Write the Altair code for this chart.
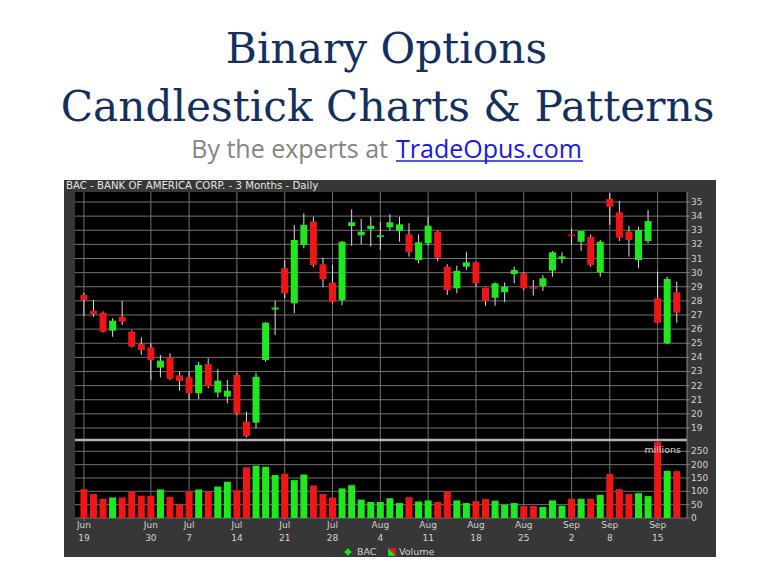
import altair as alt
import numpy as np
import pandas as pd

# ---------------- data ----------------
dates = [
    "2008-06-19", "2008-06-20", "2008-06-23", "2008-06-24", "2008-06-25", "2008-06-26", "2008-06-27", "2008-06-30",
    "2008-07-01", "2008-07-02", "2008-07-03", "2008-07-07", "2008-07-08", "2008-07-09", "2008-07-10", "2008-07-11",
    "2008-07-14", "2008-07-15", "2008-07-16", "2008-07-17", "2008-07-18", "2008-07-21", "2008-07-22", "2008-07-23",
    "2008-07-24", "2008-07-25", "2008-07-28", "2008-07-29", "2008-07-30", "2008-07-31",
    "2008-08-01", "2008-08-04", "2008-08-05", "2008-08-06", "2008-08-07", "2008-08-08", "2008-08-11", "2008-08-12",
    "2008-08-13", "2008-08-14", "2008-08-15", "2008-08-18", "2008-08-19", "2008-08-20", "2008-08-21", "2008-08-22",
    "2008-08-25", "2008-08-26", "2008-08-27", "2008-08-28", "2008-08-29",
    "2008-09-02", "2008-09-03", "2008-09-04", "2008-09-05", "2008-09-08", "2008-09-09", "2008-09-10", "2008-09-11",
    "2008-09-12", "2008-09-15", "2008-09-16", "2008-09-17",
]
opens = [28.42, 27.30, 27.16, 25.89, 26.88, 25.82, 24.95, 24.71, 23.27, 24.00,
         22.73, 22.59, 21.46, 23.53, 21.51, 21.22, 22.75, 19.45, 19.38, 23.81,
         27.40, 30.31, 27.83, 31.96, 33.61, 30.59, 29.29, 28.06, 33.30, 32.64,
         33.09, 32.55, 33.21, 32.95, 32.71, 30.89, 32.08, 32.90, 30.42, 28.89,
         30.42, 30.73, 28.93, 28.22, 28.61, 29.90, 29.95, 28.95, 29.05, 30.14,
         30.96, 32.68, 32.19, 32.54, 30.02, 35.21, 34.27, 32.90, 30.89, 32.24,
         28.18, 25.00, 28.61]
closes = [28.06, 27.07, 25.82, 26.60, 26.53, 24.76, 24.52, 23.81, 23.77, 22.49,
          22.33, 21.46, 23.46, 21.97, 22.35, 21.64, 20.04, 18.43, 22.63, 26.45,
          27.47, 28.54, 32.31, 33.37, 30.54, 29.53, 27.94, 32.19, 33.56, 32.90,
          33.32, 32.59, 33.56, 33.42, 31.44, 32.15, 33.32, 31.06, 28.77, 30.12,
          30.73, 29.24, 27.99, 29.24, 29.00, 30.19, 28.89, 28.91, 29.60, 31.44,
          31.15, 32.64, 32.95, 30.54, 32.19, 34.67, 32.47, 32.31, 33.02, 33.65,
          26.45, 29.55, 27.16]
highs = [28.56, 28.06, 27.25, 26.77, 28.00, 25.90, 25.42, 25.00, 24.17, 24.29,
         22.99, 22.99, 23.69, 23.93, 23.16, 22.40, 22.92, 20.15, 22.92, 26.50,
         28.00, 30.89, 33.37, 34.20, 33.96, 31.06, 30.54, 32.25, 34.48, 33.80,
         33.96, 33.61, 34.13, 33.96, 33.49, 32.71, 33.96, 32.95, 30.59, 30.49,
         31.48, 30.77, 28.95, 29.31, 29.31, 30.42, 30.02, 29.48, 29.83, 31.53,
         31.44, 33.14, 32.95, 32.71, 32.31, 35.62, 35.07, 33.32, 33.25, 34.43,
         30.07, 29.71, 29.36]
lows = [26.93, 26.88, 25.75, 25.46, 26.29, 24.70, 24.17, 22.40, 22.59, 22.40,
        21.64, 20.98, 21.05, 21.81, 21.17, 20.75, 19.92, 18.34, 18.98, 23.69,
        25.58, 28.18, 27.12, 31.72, 30.38, 28.96, 27.83, 27.70, 31.91, 32.00,
        31.84, 31.60, 32.97, 32.19, 31.13, 30.66, 31.91, 30.82, 28.42, 28.54,
        30.19, 29.00, 27.66, 27.66, 27.90, 29.24, 28.77, 28.37, 28.70, 29.71,
        30.66, 32.00, 31.53, 30.42, 29.71, 33.37, 32.24, 31.13, 30.31, 32.08,
        26.41, 24.95, 26.45]
volumes = [108, 90, 72, 77, 77, 99, 84, 83, 107, 79,
           49, 100, 107, 99, 118, 136, 104, 190, 196, 192,
           161, 166, 142, 163, 122, 90, 77, 111, 123, 69,
           60, 60, 74, 56, 78, 62, 66, 60, 100, 66,
           56, 63, 71, 65, 50, 56, 45, 45, 41, 66,
           46, 72, 72, 72, 87, 165, 108, 90, 93, 82,
           285, 177, 176]

tick_dates = ["2008-06-19", "2008-06-30", "2008-07-07", "2008-07-14", "2008-07-21", "2008-07-28",
              "2008-08-04", "2008-08-11", "2008-08-18", "2008-08-25", "2008-09-02", "2008-09-08", "2008-09-15"]
tick_months = ["Jun", "Jun", "Jul", "Jul", "Jul", "Jul", "Aug", "Aug", "Aug", "Aug", "Sep", "Sep", "Sep"]
tick_days = ["19", "30", "7", "14", "21", "28", "4", "11", "18", "25", "2", "8", "15"]
price_ticks = [19, 20, 21, 22, 23, 24, 25, 26, 27, 28, 29, 30, 31, 32, 33, 34, 35]
volume_ticks = [0, 50, 100, 150, 200, 250]

chart_title = "BAC - BANK OF AMERICA CORP. - 3 Months - Daily"
main_title_1 = "Binary Options"
main_title_2 = "Candlestick Charts & Patterns"
sub_plain = "By the experts at"
sub_link = "TradeOpus.com"

# ---------------- frames ----------------
df = pd.DataFrame({"date": dates, "open": opens, "high": highs, "low": lows,
                   "close": closes, "volume": volumes})
df["i"] = np.arange(len(df))
df["dir"] = np.where(df["close"] >= df["open"], "up", "down")
df["doji"] = (df["close"] - df["open"]).abs() < 0.12

ticks_df = pd.DataFrame({"date": tick_dates, "month": tick_months, "day": tick_days})
ticks_df["i"] = [dates.index(d) for d in tick_dates]
pt_df = pd.DataFrame({"p": price_ticks, "label": [str(v) for v in price_ticks]})
vt_df = pd.DataFrame({"v": volume_ticks, "label": [str(v) for v in volume_ticks]})
one = pd.DataFrame({"a": [0]})

UP = "#1fe81f"
DOWN = "#f01616"
GRID = "#727272"
LABEL = "#d2d2d2"
PANEL = "#373737"
NAVY = "#13305f"
FONT = "DejaVu Sans"

X = alt.Scale(domain=[-0.41, 62.55], range=[67, 679], nice=False, zero=False)
PY = alt.Scale(domain=[18.292, 35.708], range=[430, 184], nice=False, zero=False)
VY = alt.Scale(domain=[0, 285], range=[510, 434], nice=False, zero=False)
COL = alt.Color("dir:N", scale=alt.Scale(domain=["up", "down"], range=[UP, DOWN]), legend=None)

def xq(field="i"):
    return alt.X(f"{field}:Q", scale=X, axis=None)

base1 = alt.Chart(one)

panel = base1.mark_rect(color=PANEL).encode(
    x=alt.value(56), x2=alt.value(708), y=alt.value(172), y2=alt.value(549))
plot_bg = base1.mark_rect(color="#000000").encode(
    x=alt.value(67), x2=alt.value(679), y=alt.value(184), y2=alt.value(510))

vgrid = alt.Chart(ticks_df).mark_rule(color=GRID, strokeWidth=1).encode(
    x=xq(), y=alt.value(184), y2=alt.value(513))
pgrid = alt.Chart(pt_df).mark_rule(color=GRID, strokeWidth=1).encode(
    y=alt.Y("p:Q", scale=PY, axis=None), x=alt.value(67), x2=alt.value(682))
vgrid2 = alt.Chart(vt_df).mark_rule(color=GRID, strokeWidth=1).encode(
    y=alt.Y("v:Q", scale=VY, axis=None), x=alt.value(67), x2=alt.value(682))
sep = base1.mark_rule(color="#b4b4b4", strokeWidth=2.5).encode(
    x=alt.value(67), x2=alt.value(679), y=alt.value(432))
axis_line = base1.mark_rule(color="#8a8a8a", strokeWidth=1).encode(
    x=alt.value(679), y=alt.value(184), y2=alt.value(510))

wicks = alt.Chart(df).mark_rule(color="#dddddd", strokeWidth=1).encode(
    x=xq(), y=alt.Y("low:Q", scale=PY, axis=None), y2="high:Q")
bodies = alt.Chart(df).mark_bar(size=7).encode(
    x=xq(), y=alt.Y("open:Q", scale=PY, axis=None), y2="close:Q", color=COL)
dojis = alt.Chart(df).transform_filter("datum.doji").mark_tick(
    orient="horizontal", size=7, thickness=2).encode(
    x=xq(), y=alt.Y("close:Q", scale=PY, axis=None), color=COL)
vol = alt.Chart(df).mark_bar(size=7).encode(
    x=xq(), y=alt.Y("volume:Q", scale=VY, axis=None, stack=None), color=COL)

plabels = alt.Chart(pt_df).mark_text(align="left", baseline="middle", font=FONT,
                                     fontSize=9, color=LABEL).encode(
    y=alt.Y("p:Q", scale=PY, axis=None), x=alt.value(683), text="label:N")
vlabels = alt.Chart(vt_df).mark_text(align="left", baseline="middle", font=FONT,
                                     fontSize=9, color=LABEL).encode(
    y=alt.Y("v:Q", scale=VY, axis=None), x=alt.value(683), text="label:N")
millions = base1.mark_text(align="right", baseline="middle", font=FONT, fontSize=9.5,
                           color=LABEL, text="millions").encode(
    x=alt.value(673), y=alt.value(442))
mlabels = alt.Chart(ticks_df).mark_text(align="center", baseline="middle", font=FONT,
                                        fontSize=9, color=LABEL).encode(
    x=xq(), y=alt.value(517), text="month:N")
dlabels = alt.Chart(ticks_df).mark_text(align="center", baseline="middle", font=FONT,
                                        fontSize=9, color=LABEL).encode(
    x=xq(), y=alt.value(530), text="day:N")
strip = base1.mark_text(align="left", baseline="middle", font=FONT, fontSize=10.2,
                        color="#e6e6e6", text=chart_title).encode(
    x=alt.value(58), y=alt.value(178))

# legend
leg_bac_icon = base1.mark_point(shape="cross", filled=True, size=45, color=UP, opacity=1).encode(
    x=alt.value(340), y=alt.value(544))
leg_bac = base1.mark_text(align="left", baseline="middle", font=FONT, fontSize=9.5,
                          color=LABEL, text="BAC").encode(x=alt.value(349), y=alt.value(544))
leg_v_g = base1.mark_point(shape="M-1,-1L-1,1L1,1Z", filled=True, size=60, color=UP, opacity=1).encode(
    x=alt.value(384), y=alt.value(544))
leg_v_r = base1.mark_point(shape="M-1,-1L1,-1L1,1Z", filled=True, size=60, color=DOWN, opacity=1).encode(
    x=alt.value(384), y=alt.value(544))
leg_vol = base1.mark_text(align="left", baseline="middle", font=FONT, fontSize=9.5,
                          color=LABEL, text="Volume").encode(x=alt.value(391), y=alt.value(544))

# page titles
t1 = base1.mark_text(align="center", baseline="alphabetic", font="DejaVu Serif", fontSize=42.3,
                     color=NAVY, text=main_title_1).encode(x=alt.value(378.5), y=alt.value(54.7))
t2 = base1.mark_text(align="center", baseline="alphabetic", font="DejaVu Serif", fontSize=42.3,
                     color=NAVY, text=main_title_2).encode(x=alt.value(379.5), y=alt.value(113))
s1 = base1.mark_text(align="right", baseline="alphabetic", font="Open Sans", fontSize=25,
                     color="#858585", text=sub_plain).encode(x=alt.value(380), y=alt.value(150))
s2 = base1.mark_text(align="left", baseline="alphabetic", font="Open Sans", fontSize=25,
                     color="#1a1ae0", text=sub_link).encode(x=alt.value(388), y=alt.value(150))
uline = base1.mark_rule(color="#1a1ae0", strokeWidth=1.5).encode(
    x=alt.value(388), x2=alt.value(575), y=alt.value(153))

chart = alt.layer(
    panel, plot_bg, vgrid, pgrid, vgrid2, sep, axis_line,
    wicks, bodies, dojis, vol,
    plabels, vlabels, millions, mlabels, dlabels, strip,
    leg_bac_icon, leg_bac, leg_v_g, leg_v_r, leg_vol,
    t1, t2, s1, s2, uline,
).resolve_scale(y="independent").properties(
    width=748, height=552, autosize=alt.AutoSizeParams(type="none"), padding=0,
    background="white"
).configure_view(stroke="transparent", strokeWidth=0)

chart.save("out.html", embed_options={"renderer": "svg", "actions": False})
